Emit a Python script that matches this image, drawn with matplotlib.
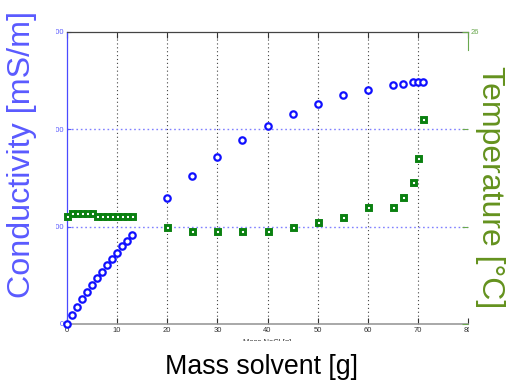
import matplotlib
matplotlib.use("Agg")
import matplotlib.pyplot as plt
from matplotlib.transforms import Bbox, TransformedBbox, IdentityTransform

plt.rcParams['font.family'] = ['Liberation Sans', 'DejaVu Sans']

# ---- data ----
mass_low = [0, 1, 2, 3, 4, 5, 6, 7, 8, 9, 10, 11, 12, 13]
cond_low = [0, 9.2, 17.5, 25.4, 32.6, 39.7, 46.9, 53.7, 60.3, 66.8, 73.2, 79.8, 85.6, 91.7]
temp_low = [22.21, 22.29, 22.29, 22.29, 22.29, 22.29, 22.21, 22.21, 22.21, 22.21, 22.21, 22.21, 22.21, 22.21]

mass_high = [20, 25, 30, 35, 40, 45, 50, 55, 60, 65, 67, 69, 70, 71]
cond_high = [129.8, 151.7, 171.6, 188.7, 203.4, 215.8, 225.7, 235.0, 240.7, 245.9, 246.9, 248.6, 248.6, 248.6]
temp_high = [22.0, 21.91, 21.91, 21.91, 21.91, 22.0, 22.10, 22.20, 22.41, 22.41, 22.61, 22.92, 23.41, 24.21]

x_ticks = [0, 10, 20, 30, 40, 50, 60, 70, 80]
x_ticklabels = ['0', '10', '20', '30', '40', '50', '60', '70', '80']
cond_ticks = [0, 100, 200, 300]
cond_ticklabels = ['0', '100', '200', '300']
temp_ticks = [20, 22, 24, 26]
temp_ticklabels = ['', '', '', '26']

W, H = 512, 387
fig = plt.figure(figsize=(W / 100, H / 100), dpi=100)
ax = fig.add_axes([67 / W, 1 - 324 / H, (468 - 67) / W, (324 - 32) / H])
ax2 = ax.twinx()

blue = '#1010ff'
green = '#0a8010'
lbl_blue = '#5a5aff'
lbl_green = '#64921e'

ax.set_xlim(0, 80)
ax.set_ylim(0, 300)
ax2.set_ylim(20, 26)

# gridlines
for xv in x_ticks[1:-1]:
    ax.axvline(xv, color='#444444', linestyle=(0, (1, 2.5)), linewidth=0.8, zorder=1)
for yv in cond_ticks[1:-1]:
    ax.axhline(yv, color='#8080ff', linestyle=(0, (1.2, 2)), linewidth=1.0, zorder=1)

ax.plot(mass_low + mass_high, cond_low + cond_high, linestyle='none', marker='o',
        ms=4.6, mfc='white', mec=blue, mew=1.6, clip_on=False, zorder=3)
ax2.plot(mass_low + mass_high, temp_low + temp_high, linestyle='none', marker='s',
         ms=3.6, mfc='white', mec=green, mew=2.1, clip_on=False, zorder=3)

# spines
ax.spines['right'].set_visible(False)
ax.spines['top'].set_color('#444444')
ax.spines['top'].set_linewidth(0.9)
ax.spines['bottom'].set_color('#999999')
ax.spines['bottom'].set_linewidth(1.2)
ax.spines['left'].set_color('#4a4aff')
ax.spines['left'].set_linewidth(0.9)
for s in ['top', 'bottom', 'left']:
    ax2.spines[s].set_visible(False)
ax2.spines['right'].set_color('#6aa84f')
ax2.spines['right'].set_bounds(25.62, 26)

# ticks
ax.set_xticks(x_ticks)
ax.set_xticklabels(x_ticklabels)
ax.tick_params(axis='x', direction='in', length=4, width=0.8, colors='#333333',
               labelsize=5.5, pad=2, top=True)
ax.set_yticks(cond_ticks)
ax.set_yticklabels(cond_ticklabels)
ax.tick_params(axis='y', direction='in', length=3, width=0.8, colors='#5a5aff',
               labelsize=5.5, pad=2)
ax2.set_yticks(temp_ticks)
ax2.set_yticklabels(temp_ticklabels)
ax2.tick_params(axis='y', direction='in', length=4, width=0.8, colors='#6aa84f',
                labelsize=5.5, pad=2)

# clipped labels, as in the reference
clip_left = TransformedBbox(Bbox.from_extents(56, 0, W, H), IdentityTransform())
for t in ax.get_yticklabels():
    t.set_clip_box(clip_left)
    t.set_clip_on(True)
clip_right = TransformedBbox(Bbox.from_extents(0, 0, 469, H), IdentityTransform())
for t in ax.get_xticklabels():
    t.set_clip_box(clip_right)
    t.set_clip_on(True)

ax.set_xlabel('Mass NaCl [g]', fontsize=5.5, labelpad=4, color='#333333')
clip_bottom = TransformedBbox(Bbox.from_extents(0, H - 341, W, H), IdentityTransform())
ax.xaxis.label.set_clip_box(clip_bottom)
ax.xaxis.label.set_clip_on(True)

fig.text(261.5 / W, 1 - 367 / H, 'Mass solvent [g]', fontsize=19.3, color='black',
         ha='center', va='center')
fig.text(22 / W, 1 - 154 / H, 'Conductivity [mS/m]', fontsize=23.2, color=lbl_blue,
         ha='center', va='center', rotation=90)
fig.text(490 / W, 1 - 187 / H, 'Temperature [\u00b0C]', fontsize=23, color=lbl_green,
         ha='center', va='center', rotation=-90)

fig.savefig('out.png', dpi=100)
